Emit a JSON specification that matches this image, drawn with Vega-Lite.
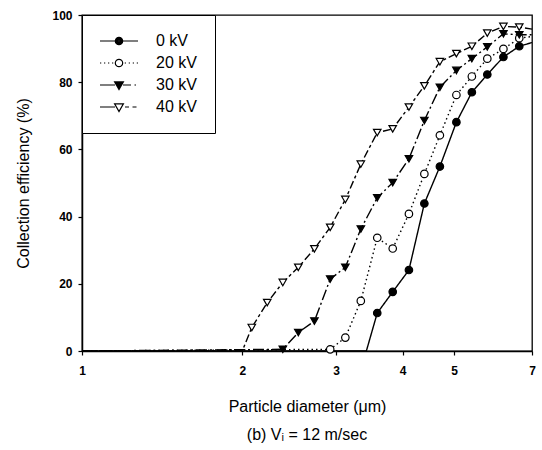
{
  "$schema": "https://vega.github.io/schema/vega-lite/v6.json",
  "width": 450,
  "height": 336,
  "autosize": {"type": "none"},
  "padding": {"left": 82, "top": 15, "right": 10, "bottom": 99},
  "background": "white",
  "config": {
    "font": "Liberation Sans",
    "view": {"stroke": "black", "strokeWidth": 1.3},
    "axis": {
      "grid": false,
      "domainColor": "black",
      "domainWidth": 1.5,
      "tickColor": "black",
      "tickWidth": 1.2,
      "tickSize": 4,
      "labelColor": "black",
      "labelFontSize": 12,
      "labelFontWeight": "bold",
      "titleColor": "black",
      "titleFontSize": 16,
      "titleFontWeight": "normal"
    },
    "legend": {
      "orient": "none",
      "legendX": 0,
      "legendY": 0,
      "title": null,
      "padding": 18,
      "fillColor": "white",
      "strokeColor": "black",
      "symbolSize": 100,
      "symbolStrokeWidth": 1.2,
      "symbolStrokeColor": "black",
      "symbolOpacity": 1,
      "symbolOffset": 11,
      "labelFontSize": 16,
      "labelColor": "black",
      "labelOffset": 29,
      "rowPadding": 6
    }
  },
  "title": {
    "text": "(b) Vᵢ = 12 m/sec",
    "orient": "bottom",
    "anchor": "middle",
    "fontSize": 16,
    "fontWeight": "normal",
    "color": "black",
    "offset": 13
  },
  "data": {
    "values": [
      {"d": 1, "e": 0, "v": "0 kV", "m": false},
      {"d": 3.42, "e": 0, "v": "0 kV", "m": false},
      {"d": 3.585, "e": 11.3, "v": "0 kV", "m": true},
      {"d": 3.833, "e": 17.6, "v": "0 kV", "m": true},
      {"d": 4.111, "e": 24.1, "v": "0 kV", "m": true},
      {"d": 4.395, "e": 43.9, "v": "0 kV", "m": true},
      {"d": 4.7, "e": 54.9, "v": "0 kV", "m": true},
      {"d": 5.048, "e": 68.1, "v": "0 kV", "m": true},
      {"d": 5.397, "e": 77.0, "v": "0 kV", "m": true},
      {"d": 5.77, "e": 82.3, "v": "0 kV", "m": true},
      {"d": 6.186, "e": 87.5, "v": "0 kV", "m": true},
      {"d": 6.625, "e": 90.7, "v": "0 kV", "m": true},
      {"d": 7, "e": 91.8, "v": "0 kV", "m": false},
      {"d": 1, "e": 0, "v": "20 kV", "m": false},
      {"d": 2.925, "e": 0.5, "v": "20 kV", "m": true},
      {"d": 3.123, "e": 4.0, "v": "20 kV", "m": true},
      {"d": 3.339, "e": 14.9, "v": "20 kV", "m": true},
      {"d": 3.585, "e": 33.7, "v": "20 kV", "m": true},
      {"d": 3.833, "e": 30.5, "v": "20 kV", "m": true},
      {"d": 4.111, "e": 40.8, "v": "20 kV", "m": true},
      {"d": 4.395, "e": 52.7, "v": "20 kV", "m": true},
      {"d": 4.7, "e": 64.2, "v": "20 kV", "m": true},
      {"d": 5.048, "e": 76.2, "v": "20 kV", "m": true},
      {"d": 5.397, "e": 81.7, "v": "20 kV", "m": true},
      {"d": 5.77, "e": 87.0, "v": "20 kV", "m": true},
      {"d": 6.186, "e": 89.9, "v": "20 kV", "m": true},
      {"d": 6.625, "e": 93.1, "v": "20 kV", "m": true},
      {"d": 7, "e": 93.6, "v": "20 kV", "m": false},
      {"d": 1, "e": 0, "v": "30 kV", "m": false},
      {"d": 2.383, "e": 0.5, "v": "30 kV", "m": true},
      {"d": 2.548, "e": 5.5, "v": "30 kV", "m": true},
      {"d": 2.732, "e": 8.9, "v": "30 kV", "m": true},
      {"d": 2.925, "e": 21.4, "v": "30 kV", "m": true},
      {"d": 3.123, "e": 24.9, "v": "30 kV", "m": true},
      {"d": 3.339, "e": 36.3, "v": "30 kV", "m": true},
      {"d": 3.585, "e": 45.6, "v": "30 kV", "m": true},
      {"d": 3.833, "e": 50.1, "v": "30 kV", "m": true},
      {"d": 4.111, "e": 57.2, "v": "30 kV", "m": true},
      {"d": 4.395, "e": 68.6, "v": "30 kV", "m": true},
      {"d": 4.7, "e": 78.5, "v": "30 kV", "m": true},
      {"d": 5.048, "e": 83.5, "v": "30 kV", "m": true},
      {"d": 5.397, "e": 87.0, "v": "30 kV", "m": true},
      {"d": 5.77, "e": 90.5, "v": "30 kV", "m": true},
      {"d": 6.186, "e": 94.4, "v": "30 kV", "m": true},
      {"d": 6.625, "e": 94.1, "v": "30 kV", "m": true},
      {"d": 7, "e": 94.1, "v": "30 kV", "m": false},
      {"d": 1, "e": 0, "v": "40 kV", "m": false},
      {"d": 2.0, "e": 0, "v": "40 kV", "m": false},
      {"d": 2.084, "e": 7.0, "v": "40 kV", "m": true},
      {"d": 2.228, "e": 14.4, "v": "40 kV", "m": true},
      {"d": 2.383, "e": 20.4, "v": "40 kV", "m": true},
      {"d": 2.548, "e": 24.9, "v": "40 kV", "m": true},
      {"d": 2.732, "e": 30.4, "v": "40 kV", "m": true},
      {"d": 2.925, "e": 36.8, "v": "40 kV", "m": true},
      {"d": 3.123, "e": 45.1, "v": "40 kV", "m": true},
      {"d": 3.339, "e": 55.6, "v": "40 kV", "m": true},
      {"d": 3.585, "e": 65.0, "v": "40 kV", "m": true},
      {"d": 3.833, "e": 66.1, "v": "40 kV", "m": true},
      {"d": 4.111, "e": 72.6, "v": "40 kV", "m": true},
      {"d": 4.395, "e": 78.9, "v": "40 kV", "m": true},
      {"d": 4.7, "e": 86.1, "v": "40 kV", "m": true},
      {"d": 5.048, "e": 88.5, "v": "40 kV", "m": true},
      {"d": 5.397, "e": 90.7, "v": "40 kV", "m": true},
      {"d": 5.77, "e": 94.6, "v": "40 kV", "m": true},
      {"d": 6.186, "e": 96.6, "v": "40 kV", "m": true},
      {"d": 6.625, "e": 96.4, "v": "40 kV", "m": true},
      {"d": 7, "e": 95.8, "v": "40 kV", "m": false}
    ]
  },
  "encoding": {
    "x": {
      "field": "d",
      "type": "quantitative",
      "scale": {"type": "log", "domain": [1, 7], "nice": false},
      "axis": {
        "values": [1, 2, 3, 4, 5, 7],
        "format": "d",
        "labelFlush": false,
        "labelPadding": 10,
        "titlePadding": 22,
        "title": "Particle diameter (μm)"
      }
    },
    "y": {
      "field": "e",
      "type": "quantitative",
      "scale": {"domain": [0, 100], "nice": false},
      "axis": {
        "values": [0, 20, 40, 60, 80, 100],
        "labelPadding": 6,
        "titlePadding": 20,
        "title": "Collection efficiency (%)"
      }
    }
  },
  "resolve": {"scale": {"shape": "independent"}},
  "layer": [
    {
      "mark": {"type": "line", "color": "black", "strokeWidth": 1.4},
      "encoding": {
        "strokeDash": {
          "field": "v",
          "type": "nominal",
          "scale": {
            "range": [[1, 0], [1.5, 3], [11, 3, 2, 3], [8, 3, 3, 3]]
          },
          "legend": null
        },
        "order": {"field": "d", "type": "quantitative"}
      }
    },
    {
      "transform": [{"filter": "datum.m"}],
      "mark": {"type": "point", "filled": true, "stroke": "black", "strokeWidth": 1.2, "size": 56, "opacity": 1},
      "encoding": {
        "fill": {
          "field": "v",
          "type": "nominal",
          "scale": {"range": ["black", "white", "black", "white"]},
          "legend": null
        },
        "shape": {
          "field": "v",
          "type": "nominal",
          "scale": {"range": ["circle", "circle", "triangle-down", "triangle-down"]},
          "legend": null
        }
      }
    },
    {
      "transform": [{"filter": "datum.d < 0"}],
      "mark": {"type": "point", "filled": false, "stroke": "black", "strokeWidth": 1.2},
      "encoding": {
        "shape": {
          "field": "v",
          "type": "nominal",
          "scale": {
            "domain": ["0 kV", "20 kV", "30 kV", "40 kV"],
            "range": [
              "M-3.8,0L3.8,0M-0.74,0A0.74,0.74,0,1,1,0.74,0A0.74,0.74,0,1,1,-0.74,0ZM-0.5,0A0.5,0.5,0,1,1,0.5,0A0.5,0.5,0,1,1,-0.5,0ZM-0.26,0A0.26,0.26,0,1,1,0.26,0A0.26,0.26,0,1,1,-0.26,0Z",
              "M-3.8,0L-3.55,0M-3,0L-2.75,0M-2.2,0L-1.95,0M-1.4,0L-1.15,0M-0.74,0A0.74,0.74,0,1,1,0.74,0A0.74,0.74,0,1,1,-0.74,0ZM1.15,0L1.4,0M1.95,0L2.2,0M2.75,0L3,0M3.55,0L3.8,0",
              "M-3.8,0L-0.8,0M-0.88,-0.64L0.88,-0.64L0,0.9ZM-0.53,-0.45L0.53,-0.45L0,0.49ZM-0.22,-0.29L0.22,-0.29L0,0.13ZM0.8,0L2.4,0M3.1,0L3.4,0",
              "M-3.8,0L-0.8,0M-0.88,-0.64L0.88,-0.64L0,0.9ZM1.2,0L2,0M2.7,0L3.5,0"
            ]
          },
          "legend": {
            "labelExpr": "(datum.label === '0 kV' ? '\u2007\u2007' : '') + datum.label + '\u00a0'"
          }
        }
      }
    }
  ]
}
